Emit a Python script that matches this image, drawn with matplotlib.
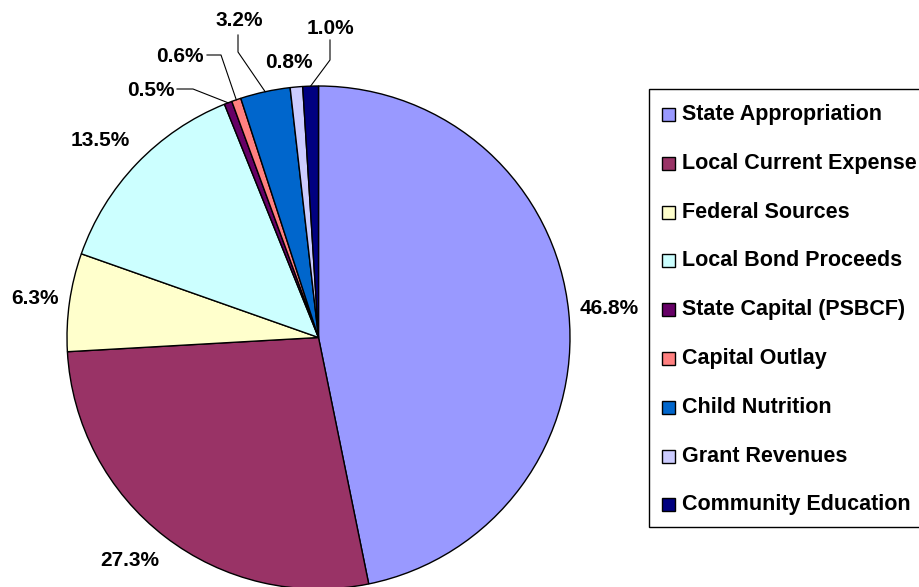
import matplotlib.pyplot as plt
import numpy as np
from matplotlib.patches import Rectangle

plt.rcParams['font.family'] = ['Liberation Sans', 'DejaVu Sans']

# Data
categories = ["State Appropriation", "Local Current Expense", "Federal Sources",
              "Local Bond Proceeds", "State Capital (PSBCF)", "Capital Outlay",
              "Child Nutrition", "Grant Revenues", "Community Education"]
shares = [46.8, 27.3, 6.3, 13.5, 0.5, 0.6, 3.2, 0.8, 1.0]
colors = ["#9999FF", "#993366", "#FFFFCC", "#CCFFFF", "#660066",
          "#FF8080", "#0066CC", "#CCCCFF", "#000080"]

# label layout (pixel coords): text centre, and elbow of leader line (None = no leader)
label_pos = [(609, 309), (130, 561), (35, 299), (100, 140), (151, 90),
             (180, 56), (239, 20), (289, 62), (330, 28)]
leaders = [None, None, None, None,
           [(177, 89), (193, 89)],
           [(207, 55), (221, 55)],
           [(238, 35), (238, 52)],
           None,
           [(330, 40), (330, 60)]]

fig = plt.figure(figsize=(9.19, 5.87), dpi=100)
ax = fig.add_axes([0, 0, 1, 1])

cx, cy, r = 318.5, 337.5, 251.5
# y axis is inverted, so counterclock=True draws clockwise on screen
ax.pie(shares, colors=colors, startangle=-90, counterclock=True,
       center=(cx, cy), radius=r, frame=True,
       wedgeprops=dict(edgecolor='black', linewidth=1.0))
ax.set_xlim(0, 919)
ax.set_ylim(587, 0)
ax.set_aspect('auto')
ax.axis('off')

cum = np.cumsum([0] + shares[:-1])
for i, v in enumerate(shares):
    tx, ty = label_pos[i]
    ax.text(tx, ty, f"{v:.1f}%", ha='center', va='center',
            fontsize=15, fontweight='bold')
    if leaders[i] is not None:
        theta = np.deg2rad(-90 + 360 * (cum[i] + v / 2) / 100)
        ax_pt = (cx + r * np.cos(theta), cy + r * np.sin(theta))
        pts = leaders[i] + [ax_pt]
        ax.plot([p[0] for p in pts], [p[1] for p in pts], color='black', lw=0.8)

# legend
ax.add_patch(Rectangle((649, 89), 300, 438, facecolor='white',
                       edgecolor='black', lw=1.0, zorder=3))
for i, name in enumerate(categories):
    y = 114.5 + i * 48.8
    ax.add_patch(Rectangle((662, y - 6.5), 13, 13, facecolor=colors[i],
                           edgecolor='black', lw=1.0, zorder=4))
    ax.text(682, y, name, ha='left', va='center', fontsize=15.5,
            fontweight='bold', zorder=5)

fig.savefig("out.png", dpi=100)
